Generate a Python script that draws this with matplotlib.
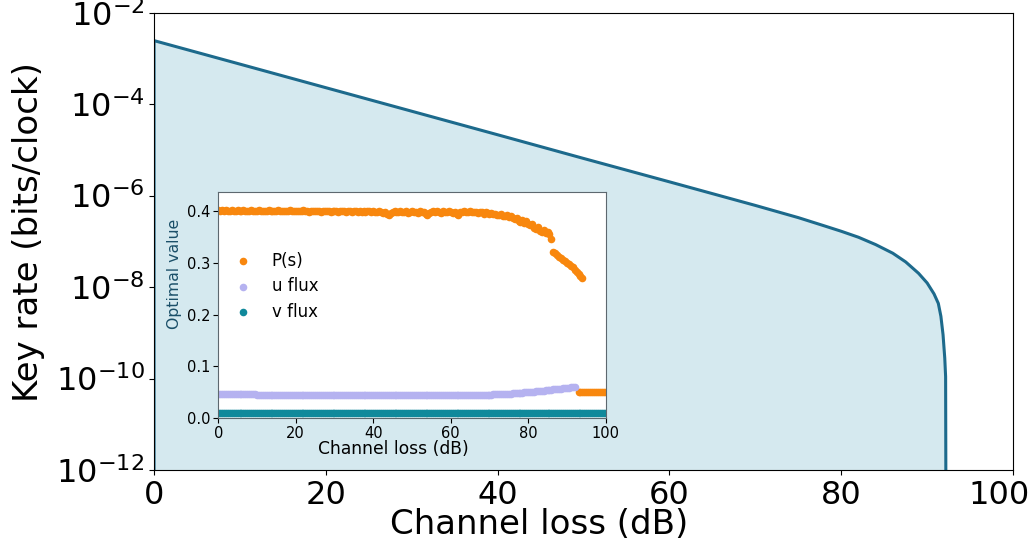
import matplotlib
matplotlib.use("Agg")
import matplotlib.pyplot as plt
import numpy as np
from matplotlib import ticker
from matplotlib.transforms import ScaledTranslation

# main curve: key rate vs channel loss
loss = [0, 0, 10, 20, 30, 40, 50, 60, 70, 75, 78, 80, 82, 84, 86, 87.5, 89,
        90, 90.8, 91.3, 91.6, 91.85, 92.05, 92.15, 92.2]
key_rate = [1e-14, 2.45e-3, 7.5e-4, 2.29e-4, 7.0e-5, 2.14e-5, 6.5e-6, 2.0e-6,
            6.1e-7, 3.3e-7, 2.19e-7, 1.66e-7, 1.23e-7, 8.5e-8, 5.5e-8, 3.55e-8,
            2.0e-8, 1.23e-8, 7.1e-9, 4.4e-9, 2.3e-9, 9.1e-10, 2.8e-10, 1.1e-10, 1e-14]

# inset: optimal parameters, sampled every 0.5 dB
p_loss = np.arange(0, 94.5, 0.5)
p_s = [0.401, 0.400, 0.401, 0.400, 0.401, 0.400, 0.400, 0.401, 0.400, 0.400,
       0.401, 0.400, 0.400, 0.401, 0.400, 0.399, 0.400, 0.401, 0.400, 0.400,
       0.400, 0.401, 0.400, 0.399, 0.400, 0.400, 0.401, 0.400, 0.399, 0.400,
       0.400, 0.401, 0.400, 0.400, 0.399, 0.400, 0.400, 0.401, 0.400, 0.399,
       0.400, 0.399, 0.400, 0.400, 0.401, 0.399, 0.400, 0.398, 0.400, 0.399,
       0.400, 0.399, 0.400, 0.398, 0.400, 0.399, 0.400, 0.399, 0.398, 0.400,
       0.399, 0.400, 0.398, 0.399, 0.400, 0.399, 0.397, 0.399, 0.400, 0.398,
       0.399, 0.400, 0.398, 0.399, 0.397, 0.399, 0.398, 0.400, 0.399, 0.397,
       0.399, 0.398, 0.397, 0.399, 0.398, 0.396, 0.398, 0.395, 0.393, 0.396,
       0.398, 0.399, 0.397, 0.398, 0.399, 0.397, 0.398, 0.399, 0.396, 0.398,
       0.399, 0.397, 0.398, 0.396, 0.399, 0.397, 0.398, 0.394, 0.392, 0.396,
       0.398, 0.399, 0.397, 0.399, 0.398, 0.396, 0.399, 0.398, 0.397, 0.399,
       0.398, 0.396, 0.398, 0.394, 0.392, 0.397, 0.398, 0.399, 0.397, 0.398,
       0.399, 0.398, 0.397, 0.398, 0.396, 0.398, 0.397, 0.395, 0.397, 0.396,
       0.395, 0.396, 0.394, 0.395, 0.393, 0.392, 0.394, 0.391, 0.390, 0.392,
       0.388, 0.390, 0.386, 0.384, 0.387, 0.381, 0.378, 0.383, 0.376, 0.380,
       0.374, 0.372, 0.375, 0.368, 0.365, 0.369, 0.362, 0.360, 0.364, 0.358,
       0.360, 0.355, 0.346, 0.321, 0.318, 0.315, 0.312, 0.309, 0.306, 0.303,
       0.300, 0.297, 0.294, 0.291, 0.287, 0.283, 0.279, 0.275, 0.271]
tail_loss = np.arange(93, 100.5, 0.5)
p_s_tail = [0.050, 0.050, 0.050, 0.050, 0.050, 0.050, 0.050, 0.050,
            0.050, 0.050, 0.050, 0.050, 0.050, 0.050, 0.050]

u_loss = np.arange(0, 92.5, 0.5)
u_flux = [0.047, 0.047, 0.047, 0.047, 0.047, 0.046, 0.046, 0.046, 0.046, 0.046,
          0.046, 0.046, 0.046, 0.046, 0.046, 0.046, 0.046, 0.046, 0.046, 0.046,
          0.045, 0.045, 0.045, 0.045, 0.045, 0.045, 0.045, 0.045, 0.045, 0.045,
          0.045, 0.045, 0.045, 0.045, 0.045, 0.045, 0.045, 0.045, 0.045, 0.045,
          0.045, 0.045, 0.045, 0.045, 0.045, 0.045, 0.045, 0.045, 0.045, 0.045,
          0.045, 0.045, 0.045, 0.045, 0.045, 0.045, 0.045, 0.045, 0.045, 0.045,
          0.045, 0.045, 0.045, 0.045, 0.045, 0.045, 0.045, 0.045, 0.045, 0.045,
          0.045, 0.045, 0.045, 0.045, 0.045, 0.045, 0.045, 0.045, 0.045, 0.045,
          0.045, 0.045, 0.045, 0.045, 0.045, 0.045, 0.045, 0.045, 0.045, 0.045,
          0.045, 0.045, 0.045, 0.045, 0.045, 0.045, 0.045, 0.045, 0.045, 0.045,
          0.045, 0.045, 0.045, 0.045, 0.045, 0.045, 0.045, 0.045, 0.045, 0.045,
          0.045, 0.045, 0.045, 0.045, 0.045, 0.045, 0.045, 0.045, 0.045, 0.045,
          0.045, 0.045, 0.045, 0.045, 0.045, 0.045, 0.045, 0.045, 0.045, 0.045,
          0.045, 0.045, 0.045, 0.045, 0.045, 0.045, 0.045, 0.045, 0.045, 0.045,
          0.045, 0.045, 0.046, 0.046, 0.046, 0.046, 0.046, 0.047, 0.047, 0.047,
          0.047, 0.047, 0.048, 0.048, 0.048, 0.049, 0.049, 0.049, 0.050, 0.050,
          0.050, 0.051, 0.051, 0.051, 0.052, 0.052, 0.053, 0.053, 0.053, 0.054,
          0.054, 0.055, 0.055, 0.056, 0.056, 0.057, 0.057, 0.057, 0.058, 0.058,
          0.058, 0.059, 0.060, 0.060, 0.061]

v_loss = np.arange(0, 100.5, 0.5)
v_flux = [0.010] * len(v_loss)

line_color = "#1d6a8c"
fill_color = "#d5e9ef"

fig = plt.figure(figsize=(10.29, 5.49), dpi=100)
ax = fig.add_axes([0.1497, 0.1439, 0.8348, 0.833])
ax.fill_between(loss, key_rate, 1e-14, color=fill_color, lw=0)
ax.semilogy(loss, key_rate, color=line_color, lw=2.2)
ax.set_xlim(0, 100)
ax.set_ylim(1e-12, 1e-2)
ax.yaxis.set_major_locator(ticker.FixedLocator([1e-12, 1e-10, 1e-8, 1e-6, 1e-4, 1e-2]))
ax.yaxis.set_minor_locator(ticker.NullLocator())
ax.set_xticks([0, 20, 40, 60, 80, 100])
ax.tick_params(labelsize=23)
ax.set_xlabel("Channel loss (dB)", fontsize=24.5)
ax.set_ylabel("Key rate (bits/clock)", fontsize=24.5)
ax.xaxis.set_label_coords(0.448, -0.083)
ax.yaxis.set_label_coords(-0.127, 0.52)
last = ax.get_xticklabels()[-1]
last.set_transform(last.get_transform() + ScaledTranslation(-0.14, 0, fig.dpi_scale_trans))

ins = fig.add_axes([0.2121, 0.2381, 0.3765, 0.4117])
ins.scatter(p_loss, p_s, s=30, lw=0, color="#f8870e", label="P(s)")
ins.scatter(tail_loss, p_s_tail, s=30, lw=0, color="#f8870e")
ins.scatter(u_loss, u_flux, s=30, lw=0, color="#b5b2f0", label="u flux")
ins.scatter(v_loss, v_flux, s=30, lw=0, color="#10899b", label="v flux")
ins.set_xlim(0, 100)
ins.set_ylim(0, 0.436)
ins.set_xticks([0, 20, 40, 60, 80, 100])
ins.set_yticks([0.0, 0.1, 0.2, 0.3, 0.4])
ins.tick_params(labelsize=10.5, pad=2)
for sp in ins.spines.values():
    sp.set_color("#5d686f")
ins.set_xlabel("Channel loss (dB)", fontsize=12.3)
ins.set_ylabel("Optimal value", fontsize=11.3, color="#1a4f68")
ins.xaxis.set_label_coords(0.451, -0.095)
ins.yaxis.set_label_coords(-0.094, 0.64)
ins.legend(loc="center left", bbox_to_anchor=(0.0, 0.585), frameon=False,
           fontsize=12, handletextpad=1.1, labelspacing=0.45, handlelength=1.2)

fig.savefig("out.png", dpi=100)
